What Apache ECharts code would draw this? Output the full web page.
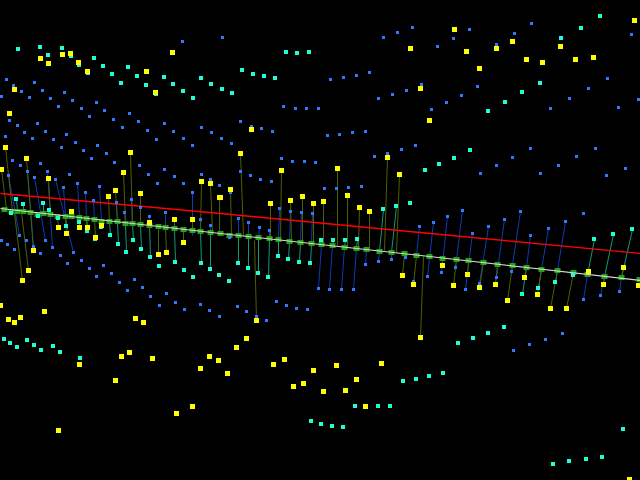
<!DOCTYPE html>
<html><head><meta charset="utf-8">
<style>html,body{margin:0;padding:0;background:#000}#c{width:640px;height:480px}</style>
<script src="https://cdn.jsdelivr.net/npm/echarts@6/dist/echarts.min.js"></script>
</head><body><div id="c"></div>
<script>
const bluePoints=[[182,41],[222,37],[6,79],[13,85],[34,82],[21,91],[42,90],[1,96],[29,97],[50,98],[64,92],[72,100],[58,106],[81,108],[96,102],[104,110],[89,116],[113,119],[129,113],[138,121],[122,127],[147,130],[164,123],[173,131],[156,139],[183,138],[192,145],[201,127],[211,132],[221,138],[231,143],[240,121],[251,126],[261,128],[272,131],[283,106],[295,108],[306,108],[318,108],[9,120],[17,125],[37,123],[24,132],[45,131],[5,136],[32,138],[53,139],[66,134],[75,142],[61,147],[83,150],[97,145],[106,153],[91,158],[12,160],[281,158],
[531,23],[514,33],[469,29],[453,38],[437,46],[496,44],[412,27],[397,32],[383,37],[631,34],[607,78],[588,88],[569,98],[550,108],[638,99],[618,107],[330,79],[343,77],[356,75],[369,72],[421,84],[477,86],[461,95],[446,102],[431,109],[406,90],[392,94],[378,98],[327,135],[339,134],[352,132],[365,131],[415,145],[401,149],[387,153],[374,156],[530,148],[512,157],[595,148],[576,156],
[480,173],[496,165],[540,173],[558,165],[606,175],[625,168],
[20,165],[27,171],[34,177],[8,175],[40,163],[47,171],[55,179],[69,174],[63,187],[77,183],[85,192],[93,200],[99,186],[114,162],[116,202],[124,212],[131,199],[139,165],[140,207],[148,174],[149,216],[157,183],[164,169],[165,212],[174,176],[183,183],[192,192],[200,219],[201,174],[210,179],[210,225],[219,185],
[1,240],[7,244],[14,249],[19,235],[26,240],[33,246],[40,253],[45,240],[52,247],[60,255],[67,263],[73,252],[81,260],[89,268],[96,276],[103,265],[111,273],[119,282],[127,290],[134,279],[142,287],
[230,192],[240,171],[250,175],[260,179],[271,181],[292,161],[304,161],[315,162],[324,188],[336,188],[348,187],[361,186],[238,218],[248,222],[259,227],[269,230],[279,208],[290,211],[301,212],[312,213],[419,226],[229,237],[318,288],[329,289],[341,289],[353,289],[365,264],[378,261],[391,259],[405,257],[413,281],[427,276],
[433,222],[447,216],[462,210],[472,233],[488,226],[504,219],[520,211],[530,235],[548,228],[565,221],[583,213],[441,272],[455,267],[465,289],[479,283],[496,277],[511,271],[583,299],[600,295],[619,291],[545,339],[562,333],[513,350],[529,344],
[150,296],[166,293],[159,305],[175,302],[184,309],[200,304],[209,310],[219,316],[237,306],[246,311],[256,316],[266,320],[276,301],[286,305],[296,308],[307,309]];

const cyanPoints=[[18,49],[40,47],[48,55],[62,48],[71,56],[79,65],[88,73],[94,58],[103,66],[112,74],[121,83],[128,67],[137,76],[146,85],[156,94],[164,77],[173,84],[183,91],[193,98],[201,78],[211,84],[222,89],[232,93],[242,70],[253,74],[264,76],[275,78],[286,52],[297,53],[309,52],
[600,16],[581,28],[561,38],[540,83],[522,92],[505,102],[488,111],[470,150],[454,158],[439,164],[425,170],
[16,199],[23,204],[11,213],[43,203],[38,216],[49,210],[58,218],[66,226],[79,222],[87,231],[101,227],[95,239],[110,235],[118,244],[126,252],[133,240],[141,249],[150,257],[159,266],[175,262],[184,270],[193,277],[201,263],[210,269],[219,275],[229,281],
[410,203],[396,206],[383,209],[321,240],[333,240],[345,240],[357,239],[238,263],[248,268],[258,273],[268,277],[278,256],[288,259],[299,262],[310,263],
[594,239],[613,234],[632,229],[522,294],[538,288],[555,282],[573,275],
[4,339],[10,343],[17,347],[27,340],[34,345],[41,350],[53,346],[60,352],[80,358],[311,421],[321,424],[332,426],[343,427],
[403,381],[416,379],[429,376],[443,373],[458,343],[473,338],[488,333],[504,327],[355,406],[378,406],[390,406],[623,429],[553,464],[569,461],[586,459],[602,457]];

const yellowPoints=[[40,58],[62,54],[70,53],[48,63],[78,62],[87,71],[146,71],[172,52],[155,92],[14,89],[9,113],[251,129],[5,147],[26,158],[130,152],[240,153],
[634,20],[454,29],[410,48],[466,51],[496,48],[512,41],[560,46],[526,59],[542,62],[575,59],[593,57],[479,68],[420,88],[429,120],[387,157],
[1,169],[48,178],[71,211],[58,227],[66,233],[79,227],[87,227],[101,225],[95,237],[108,196],[115,190],[123,172],[140,193],[149,222],[174,219],[192,219],[183,242],[158,254],[166,252],[201,181],[210,183],[219,197],[33,250],[28,270],[22,280],
[281,170],[337,168],[399,174],[230,189],[220,197],[290,200],[302,196],[270,203],[313,203],[323,201],[347,195],[359,207],[369,211],[402,275],[413,284],
[442,265],[453,285],[467,274],[479,287],[495,284],[507,300],[524,277],[537,294],[550,308],[566,308],[588,271],[603,284],[623,267],[638,285],[420,337],
[0,305],[8,319],[14,322],[20,317],[44,311],[135,318],[143,322],[256,320],[246,338],[236,347],[209,356],[218,360],[200,368],[227,373],[121,356],[129,352],[152,358],[79,364],[115,380],[192,406],[176,413],[58,430],[273,364],[284,359],[313,370],[293,386],[303,383],
[336,365],[381,363],[356,379],[323,391],[345,390],[365,406],[629,479]];

const baseMarkers=[[4,209],[11,211],[17,211],[23,211],[30,212],[37,214],[43,213],[50,214],[57,216],[65,216],[71,216],[79,217],[86,218],[94,219],[101,221],[109,221],[117,221],[125,223],[132,223],[140,224],[149,225],[158,226],[165,227],[174,228],[183,229],[192,230],[200,231],[210,232],[220,233],[229,235],[238,235],[248,236],[258,237],[269,238],[278,239],[289,241],[300,242],[311,243],[321,244],[332,245],[344,247],[356,248],[366,249],[379,251],[391,252],[404,253],[416,255],[429,256],[442,258],[456,259],[468,260],[483,262],[497,264],[512,265],[526,267],[541,269],[557,270],[573,272],[587,274],[604,276],[621,277],[639,279]];
const whiteLine=[[0,208],[220,233],[429,256],[640,280]];
const redLine=[[0,193],[220,213],[430,233],[640,253]];

const yellowStems=[[5,147,12,211],[22,280,14,213],[1,169,6,209],[28,270,21,212],[26,158,33,250],[48,178,50,214],[58,227,57,216],[66,233,65,216],[71,211,71,216],[79,227,79,217],[87,227,86,218],[101,225,101,221],[95,237,94,219],[108,196,109,221],[115,190,117,221],[130,152,132,223],[123,172,125,223],[140,193,140,224],[149,222,149,225],[174,219,174,228],[192,219,192,230],[183,242,183,229],[158,254,158,226],[166,252,165,227],[201,181,200,231],[210,183,212,232],[219,197,219,233],[240,153,243,236],[256,320,254,240],[281,170,280,239],[337,168,337,245],[387,157,384,250],[399,174,396,252],[230,189,231,235],[290,200,291,241],[302,196,302,242],[270,203,270,238],[313,203,313,243],[323,201,323,244],[347,195,347,247],[359,207,358,248],[369,211,369,249],[402,275,404,253],[413,284,416,255],[420,337,423,256],[442,265,442,258],[453,285,456,259],[467,274,468,260],[479,287,483,262],[495,284,497,264],[507,300,512,265],[524,277,526,267],[537,294,541,269],[550,308,557,270],[566,308,573,272],[588,271,587,274],[603,284,604,276],[623,267,621,277],[638,285,639,279]];
const blueStems=[[55,179,73,252],[47,171,52,247],[34,177,45,240],[27,171,33,246],[8,175,19,235],[63,187,65,216],[77,183,79,217],[85,192,86,218],[93,200,94,219],[99,186,101,221],[116,202,117,221],[124,212,125,223],[131,199,132,223],[140,207,140,224],[149,216,149,225],[165,212,165,227],[192,192,192,235],[200,219,200,231],[210,225,210,232],[238,218,238,235],[248,222,248,236],[259,227,258,237],[269,230,269,238],[279,208,278,239],[290,211,289,241],[301,212,300,242],[312,213,311,243],[318,288,321,244],[329,289,332,245],[341,289,344,247],[353,289,356,248],[365,264,366,249],[378,261,379,251],[391,259,391,252],[405,257,404,253],[419,226,416,255],[427,276,433,222],[441,272,447,216],[455,267,462,210],[465,289,472,233],[479,283,488,226],[496,277,504,219],[511,271,520,211],[530,235,526,267],[548,228,541,269],[565,221,557,270],[583,299,587,274],[600,295,604,276],[619,291,621,277]];
const cyanStems=[[16,199,17,211],[23,204,23,211],[43,203,43,213],[38,216,37,214],[49,210,50,214],[58,218,57,216],[66,226,65,216],[79,222,79,217],[87,231,86,218],[110,235,109,221],[118,244,117,221],[126,252,125,223],[133,240,132,223],[141,249,140,224],[150,257,149,225],[175,262,174,228],[201,263,200,231],[210,269,210,232],[238,263,238,235],[248,268,248,236],[258,273,258,237],[268,277,269,238],[278,256,278,239],[288,259,289,241],[299,262,300,242],[310,263,311,243],[321,240,321,244],[333,240,332,245],[345,240,344,247],[357,239,356,248],[383,209,379,251],[396,206,391,252],[522,294,526,267],[538,288,541,269],[555,282,557,270],[573,275,573,272],[594,239,587,274],[613,234,604,276],[632,229,621,277]];

function stemData(list){const out=[];for(const s of list){out.push([s[0],s[1]],[s[2],s[3]],[null,null]);}return out;}
function stem(list,color){return {type:'line',data:stemData(list),symbol:'none',silent:true,connectNulls:false,lineStyle:{color:color,width:1},z:1};}
function dots(data,color,size,offset,z){return {type:'scatter',data:data,symbol:'rect',symbolSize:size,symbolOffset:offset,itemStyle:{color:color,opacity:1},z:z};}

const chart=echarts.init(document.getElementById('c'),null,{renderer:'canvas'});
chart.setOption({
  animation:false,backgroundColor:'#000000',
  grid:{left:0,right:0,top:0,bottom:0},
  xAxis:{type:'value',min:-0.5,max:639.5,show:false},
  yAxis:{type:'value',min:-0.5,max:479.5,inverse:true,show:false},
  series:[
    stem(blueStems,'#0a3cb0'),
    stem(cyanStems,'#0f9a78'),
    stem(yellowStems,'#4c6000'),
    {type:'line',data:redLine,symbol:'none',lineStyle:{color:'#ff0000',width:1.3},z:2},
    dots(baseMarkers,'#22a012',[6,5],[0,0],3),
    {type:'line',data:whiteLine,symbol:'none',lineStyle:{color:'#d8d8d8',width:1.2},z:4},
    dots(bluePoints,'#2f78ff',3,[0,0],5),
    dots(cyanPoints,'#1fffd4',4,[-0.5,-0.5],6),
    dots(yellowPoints,'#ffff00',5,[0,0],7)
  ]
});
</script></body></html>
